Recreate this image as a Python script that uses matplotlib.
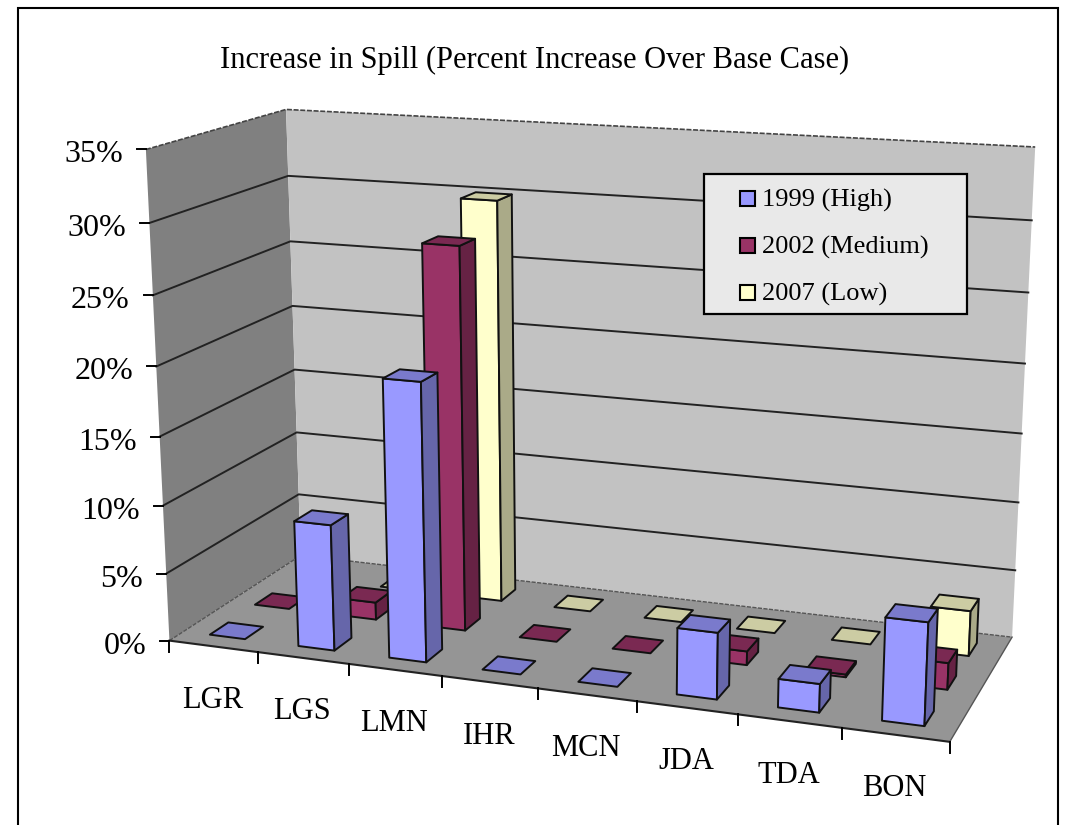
import numpy as np
import matplotlib
matplotlib.use('Agg')
import matplotlib.pyplot as plt
from matplotlib.patches import Polygon, Rectangle

plt.rcParams['font.family'] = ['Liberation Serif', 'DejaVu Serif']

title = 'Increase in Spill (Percent Increase Over Base Case)'
categories = ['LGR', 'LGS', 'LMN', 'IHR', 'MCN', 'JDA', 'TDA', 'BON']
y_ticks = [0, 5, 10, 15, 20, 25, 30, 35]

# valores, en porcentaje
high_1999 = [0, 9.2, 20, 0, 0, 4.7, 2, 7.1]
medium_2002 = [0, 1.3, 28, 0, 0, 1, 0.2, 1.9]
low_2007 = [0, 0, 30, 0, 0, 0, 0, 3.3]

series_names = ['1999 (High)', '2002 (Medium)', '2007 (Low)']
front_colors = ['#9999FF', '#993366', '#FFFFCC']
top_colors = ['#7A7ACC', '#7A2952', '#CCCCA3']
side_colors = ['#6666AA', '#662244', '#AAAA88']

# esquinas de la caja 3D: (categoria, fondo, valor) -> pixel
box_3d = [(0, 0, 0), (8, 0, 0), (0, 1, 0), (8, 1, 0), (0, 0, 35), (0, 1, 35), (8, 1, 35)]
box_px = [(170, 640), (950, 742), (300, 556), (1012, 637), (145, 150), (287, 109), (1035, 147)]


def fit_camera(pts3d, pts2d):
    # DLT: matriz 3x4 de la perspectiva
    rows = []
    for (x, y, z), (u, v) in zip(pts3d, pts2d):
        rows.append([x, y, z, 1, 0, 0, 0, 0, -u * x, -u * y, -u * z, -u])
        rows.append([0, 0, 0, 0, x, y, z, 1, -v * x, -v * y, -v * z, -v])
    _, _, vt = np.linalg.svd(np.array(rows, dtype=float))
    return vt[-1].reshape(3, 4)


cam = fit_camera(box_3d, box_px)


def proj(x, y, z):
    p = cam @ np.array([x, y, z, 1.0])
    return p[0] / p[2], p[1] / p[2]


def face(ax, pts, color, z=2, lw=1.4):
    ax.add_patch(Polygon([proj(*p) for p in pts], closed=True, facecolor=color,
                         edgecolor='#111111', linewidth=lw, zorder=z, joinstyle='round'))


fig = plt.figure(figsize=(10.76, 8.25), dpi=100)
ax = fig.add_axes([0, 0, 1, 1])
ax.set_xlim(0, 1076)
ax.set_ylim(825, 0)
ax.axis('off')

# marco del grafico
ax.add_patch(Rectangle((18, 8), 1040, 830, facecolor='white', edgecolor='black', linewidth=1.5))

# paredes y suelo
ax.add_patch(Polygon([proj(0, 0, 0), proj(0, 1, 0), proj(0, 1, 35), proj(0, 0, 35)], facecolor='#808080', edgecolor='none'))
ax.add_patch(Polygon([proj(0, 1, 0), proj(8, 1, 0), proj(8, 1, 35), proj(0, 1, 35)], facecolor='#C2C2C2', edgecolor='none'))
ax.add_patch(Polygon([proj(0, 0, 0), proj(8, 0, 0), proj(8, 1, 0), proj(0, 1, 0)], facecolor='#959595', edgecolor='none'))

# rejilla y ticks del eje y
for v in y_ticks:
    a, b, c = proj(0, 0, v), proj(0, 1, v), proj(8, 1, v)
    if v == 35:
        ax.plot([a[0], b[0], c[0]], [a[1], b[1], c[1]], color='#444444', lw=1.2, ls=(0, (3, 1)), zorder=1)
    elif v > 0:
        ax.plot([a[0], b[0], c[0]], [a[1], b[1], c[1]], color='#222222', lw=1.4, zorder=1)
    else:
        ax.plot([a[0], b[0], c[0]], [a[1], b[1], c[1]], color='#555555', lw=1.0, ls=(0, (3, 1)), zorder=1)
    ax.plot([a[0] - 9, a[0]], [a[1], a[1]], color='black', lw=1.4, zorder=1)
    ax.text(a[0] - 23, a[1] + 5.5, '%d%%' % v, ha='right', va='center', fontsize=23, color='black')

# borde del suelo
ax.plot(*zip(proj(0, 0, 0), proj(8, 0, 0)), color='#222222', lw=1.5, zorder=1)
ax.plot(*zip(proj(8, 0, 0), proj(8, 1, 0)), color='#555555', lw=1.0, zorder=1)

# ticks y etiquetas de categorias
for i in range(len(categories) + 1):
    px, py = proj(i, 0, 0)
    ax.plot([px, px], [py, py + 11], color='black', lw=1.4, zorder=1)
for i, name in enumerate(categories):
    px, py = proj(i + 0.5, 0, 0)
    ax.text(px - 1, py + 54, name, ha='center', va='center', fontsize=22, color='black')

# barras: de atras hacia delante, de izquierda a derecha
rows = [high_1999, medium_2002, low_2007]
bar_w = 0.4
order = 2
for s in [2, 1, 0]:
    y0 = (s + 0.3) / 3
    y1 = (s + 0.7) / 3
    for i, val in enumerate(rows[s]):
        x0 = i + 0.5 - bar_w / 2
        x1 = i + 0.5 + bar_w / 2
        order += 1
        if val > 0:
            face(ax, [(x0, y0, 0), (x1, y0, 0), (x1, y0, val), (x0, y0, val)], front_colors[s], order)
            face(ax, [(x1, y0, 0), (x1, y1, 0), (x1, y1, val), (x1, y0, val)], side_colors[s], order)
        face(ax, [(x0, y0, val), (x1, y0, val), (x1, y1, val), (x0, y1, val)], top_colors[s], order)

# titulo
ax.text(535, 60, title, ha='center', va='center', fontsize=22, color='black')

# leyenda
ax.add_patch(Rectangle((704, 174), 263, 140, facecolor='#E9E9E9', edgecolor='black', linewidth=1.6, zorder=200))
for k, name in enumerate(series_names):
    cy = 198 + 47 * k
    ax.add_patch(Rectangle((740, cy - 7.5), 15, 15, facecolor=front_colors[k], edgecolor='black', linewidth=1.5, zorder=201))
    ax.text(762, cy + 2, name, ha='left', va='center', fontsize=19, color='black', zorder=201)

fig.savefig('out.png', dpi=100)
